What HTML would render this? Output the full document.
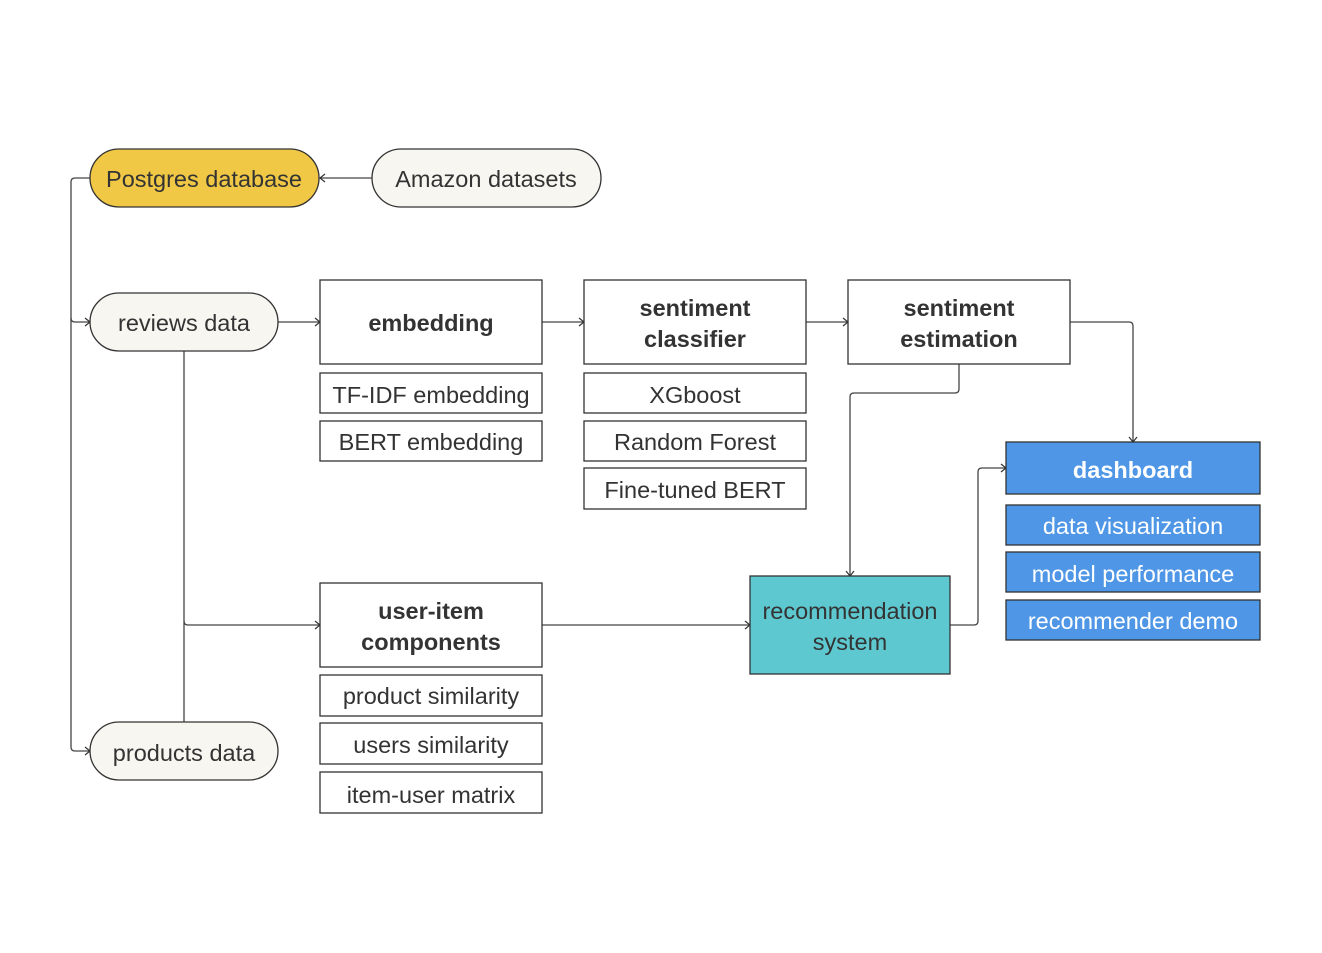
<!DOCTYPE html>
<html><head><meta charset="utf-8"><style>
html,body{margin:0;padding:0;background:#fff;}
svg text{font-family:"Liberation Sans",sans-serif;fill:#333;}
</style></head><body>
<svg width="1322" height="948" viewBox="0 0 1322 948" xmlns="http://www.w3.org/2000/svg">
<defs><marker id="a" markerWidth="10" markerHeight="10" refX="8" refY="5" orient="auto" markerUnits="userSpaceOnUse"><path d="M3,1 L8,5 L3,9" fill="none" stroke="#333" stroke-width="1.2"/></marker></defs>
<g fill="none" stroke="#444" stroke-width="1.3">
<path d="M372,178 H320" marker-end="url(#a)"/>
<path d="M90,178 H75 Q71,178 71,182 V747 Q71,751 75,751 H90" marker-end="url(#a)"/>
<path d="M71,318 Q71,322 75,322 H90" marker-end="url(#a)"/>
<path d="M278,322 H320" marker-end="url(#a)"/>
<path d="M542,322 H584" marker-end="url(#a)"/>
<path d="M806,322 H848" marker-end="url(#a)"/>
<path d="M184,351 V722"/>
<path d="M184,621 Q184,625 188,625 H320" marker-end="url(#a)"/>
<path d="M542,625 H750" marker-end="url(#a)"/>
<path d="M1070,322 H1129 Q1133,322 1133,326 V442" marker-end="url(#a)"/>
<path d="M959,364 V389 Q959,393 955,393 H854 Q850,393 850,397 V576" marker-end="url(#a)"/>
<path d="M950,625 H974 Q978,625 978,621 V472 Q978,468 982,468 H1006" marker-end="url(#a)"/>
</g>
<g stroke="#333" stroke-width="1.3">
<rect x="90" y="149" width="229" height="58" rx="29" fill="#f0c845"/>
<rect x="372" y="149" width="229" height="58" rx="29" fill="#f8f6f0"/>
<rect x="90" y="293" width="188" height="58" rx="29" fill="#f8f6f0"/>
<rect x="90" y="722" width="188" height="58" rx="29" fill="#f8f6f0"/>
<g fill="#fff">
<rect x="320" y="280" width="222" height="84"/>
<rect x="320" y="373" width="222" height="40"/>
<rect x="320" y="421" width="222" height="40"/>
<rect x="584" y="280" width="222" height="84"/>
<rect x="584" y="373" width="222" height="40"/>
<rect x="584" y="421" width="222" height="40"/>
<rect x="584" y="468" width="222" height="41"/>
<rect x="848" y="280" width="222" height="84"/>
<rect x="320" y="583" width="222" height="84"/>
<rect x="320" y="675" width="222" height="41"/>
<rect x="320" y="723" width="222" height="41"/>
<rect x="320" y="772" width="222" height="41"/>
</g>
<rect x="750" y="576" width="200" height="98" fill="#5ec8d0"/>
<g fill="#4f97e6">
<rect x="1006" y="442" width="254" height="52"/>
<rect x="1006" y="505" width="254" height="40"/>
<rect x="1006" y="552" width="254" height="40"/>
<rect x="1006" y="600" width="254" height="40"/>
</g>
</g>
<g font-size="23.5" text-anchor="middle">
<text x="204" y="187">Postgres database</text>
<text x="486" y="187">Amazon datasets</text>
<text x="184" y="331">reviews data</text>
<text x="184" y="761">products data</text>
<text x="431" y="331" font-weight="bold">embedding</text>
<text x="431" y="403">TF-IDF embedding</text>
<text x="431" y="450">BERT embedding</text>
<text x="695" y="316" font-weight="bold">sentiment</text>
<text x="695" y="347" font-weight="bold">classifier</text>
<text x="695" y="403">XGboost</text>
<text x="695" y="450">Random Forest</text>
<text x="695" y="498">Fine-tuned BERT</text>
<text x="959" y="316" font-weight="bold">sentiment</text>
<text x="959" y="347" font-weight="bold">estimation</text>
<text x="431" y="619" font-weight="bold">user-item</text>
<text x="431" y="650" font-weight="bold">components</text>
<text x="431" y="704">product similarity</text>
<text x="431" y="753">users similarity</text>
<text x="431" y="803">item-user matrix</text>
<text x="850" y="619">recommendation</text>
<text x="850" y="650">system</text>
<text x="1133" y="478" font-weight="bold" style="fill:#fff">dashboard</text>
<text x="1133" y="534" style="fill:#fff">data visualization</text>
<text x="1133" y="582" style="fill:#fff">model performance</text>
<text x="1133" y="629" style="fill:#fff">recommender demo</text>
</g>
</svg>
</body></html>
